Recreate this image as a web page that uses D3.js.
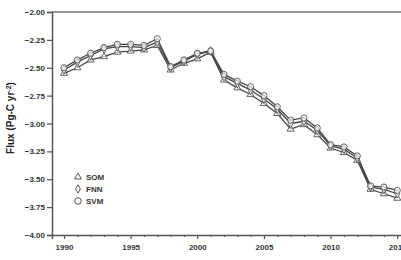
<!DOCTYPE html>
<html>
<head>
<meta charset="utf-8">
<script src="https://cdn.jsdelivr.net/npm/d3@7"></script>
<style>
  body { margin: 0; background: #fff; }
  svg { display: block; font-family: "Liberation Sans", Arial, sans-serif; }
</style>
</head>
<body>
<div id="chart"></div>
<script>
// data
const years = d3.range(1990, 2016);
const som = [-2.55, -2.50, -2.43, -2.40, -2.36, -2.35, -2.34, -2.30, -2.52, -2.46, -2.42, -2.36, -2.61,
    -2.68, -2.74, -2.82, -2.91, -3.05, -3.01, -3.10, -3.22, -3.26, -3.33, -3.59, -3.63, -3.67];
const fnn = [-2.52, -2.45, -2.39, -2.33, -2.31, -2.31, -2.32, -2.27, -2.50, -2.44, -2.38, -2.35, -2.58,
    -2.64, -2.70, -2.78, -2.87, -3.00, -2.98, -3.06, -3.20, -3.23, -3.31, -3.57, -3.59, -3.63];
const svm = [-2.50, -2.43, -2.37, -2.32, -2.29, -2.29, -2.30, -2.24, -2.49, -2.43, -2.37, -2.35, -2.56,
    -2.62, -2.67, -2.75, -2.85, -2.97, -2.95, -3.04, -3.19, -3.21, -3.29, -3.56, -3.57, -3.60];
const yTicks = [-2.00, -2.25, -2.50, -2.75, -3.00, -3.25, -3.50, -3.75, -4.00];
const xTicks = [1990, 1995, 2000, 2005, 2010, 2015];

const series = [
    { name: 'SOM', values: som, symbol: d3.symbolTriangle },
    { name: 'FNN', values: fnn, symbol: d3.symbolDiamond },
    { name: 'SVM', values: svm, symbol: d3.symbolCircle }
];

const width = 401, height = 260;
const margin = { top: 12, left: 52, bottom: 25 };

const svg = d3.select('#chart').append('svg')
    .attr('width', width)
    .attr('height', height);

const x = d3.scaleLinear().domain([1989.1, 2015.8]).range([margin.left, margin.left + 26.7 * 13.33]);
const y = d3.scaleLinear().domain([-2, -4]).range([margin.top, height - margin.bottom]);

const axisColor = '#555';
const textColor = '#333';

// top frame line
svg.append('line')
    .attr('x1', margin.left).attr('x2', width)
    .attr('y1', y(-2)).attr('y2', y(-2))
    .attr('stroke', '#777').attr('stroke-width', 1.5);

// y axis
const yAxis = svg.append('g')
    .attr('transform', `translate(${margin.left},0)`)
    .call(d3.axisLeft(y).tickValues(yTicks).tickFormat(d3.format('.2f')).tickSize(5).tickPadding(2));

// x axis
const xAxis = svg.append('g')
    .attr('transform', `translate(0,${y(-4)})`)
    .call(d3.axisBottom(x).tickValues(xTicks).tickFormat(d3.format('d')).tickSize(4).tickPadding(5));

// minor year ticks
svg.append('g')
    .attr('transform', `translate(0,${y(-4)})`)
    .call(d3.axisBottom(x).tickValues(years.filter(d => d % 5 !== 0)).tickFormat('').tickSize(2))
    .select('.domain').remove();

[yAxis, xAxis].forEach(g => {
    g.select('.domain').attr('stroke', axisColor).attr('stroke-width', 1.5);
    g.selectAll('.tick text')
        .attr('fill', textColor)
        .style('font-size', '8px')
        .style('font-weight', 'bold');
});
svg.selectAll('.tick line').attr('stroke', axisColor).attr('stroke-width', 1.2);

// y label
const ylab = svg.append('text')
    .attr('transform', `translate(14,118) rotate(-90)`)
    .attr('text-anchor', 'middle')
    .attr('fill', '#222')
    .style('font-size', '10px')
    .style('font-weight', 'bold')
    .text('Flux (Pg-C yr');
ylab.append('tspan').attr('baseline-shift', 'super').style('font-size', '7px').text('-2');
ylab.append('tspan').text(')');

const line = d3.line()
    .x((d, i) => x(years[i]))
    .y(d => y(d));

const plot = svg.append('g');

series.forEach(s => {
    plot.append('path')
        .datum(s.values)
        .attr('d', line)
        .attr('fill', 'none')
        .attr('stroke', '#444')
        .attr('stroke-width', 1.3);
});

series.forEach(s => {
    plot.selectAll(null)
        .data(s.values)
        .enter()
        .append('path')
        .attr('transform', (d, i) => `translate(${x(years[i])},${y(d)})`)
        .attr('d', d3.symbol().type(s.symbol).size(s.name === 'SVM' ? 30 : 22))
        .attr('fill', 'rgba(255,255,255,0.6)')
        .attr('stroke', '#555')
        .attr('stroke-width', 0.9);
});

// legend
const legend = svg.append('g').attr('transform', 'translate(78,177)');
series.forEach((s, i) => {
    const row = legend.append('g').attr('transform', `translate(0,${i * 12})`);
    row.append('path')
        .attr('d', d3.symbol().type(s.symbol).size(s.name === 'SVM' ? 34 : 20))
        .attr('fill', '#fff')
        .attr('stroke', '#444')
        .attr('stroke-width', 0.9);
    row.append('text')
        .attr('x', 8)
        .attr('y', 3)
        .attr('fill', textColor)
        .style('font-size', '8px')
        .style('font-weight', 'bold')
        .text(s.name);
});
</script>
</body>
</html>
